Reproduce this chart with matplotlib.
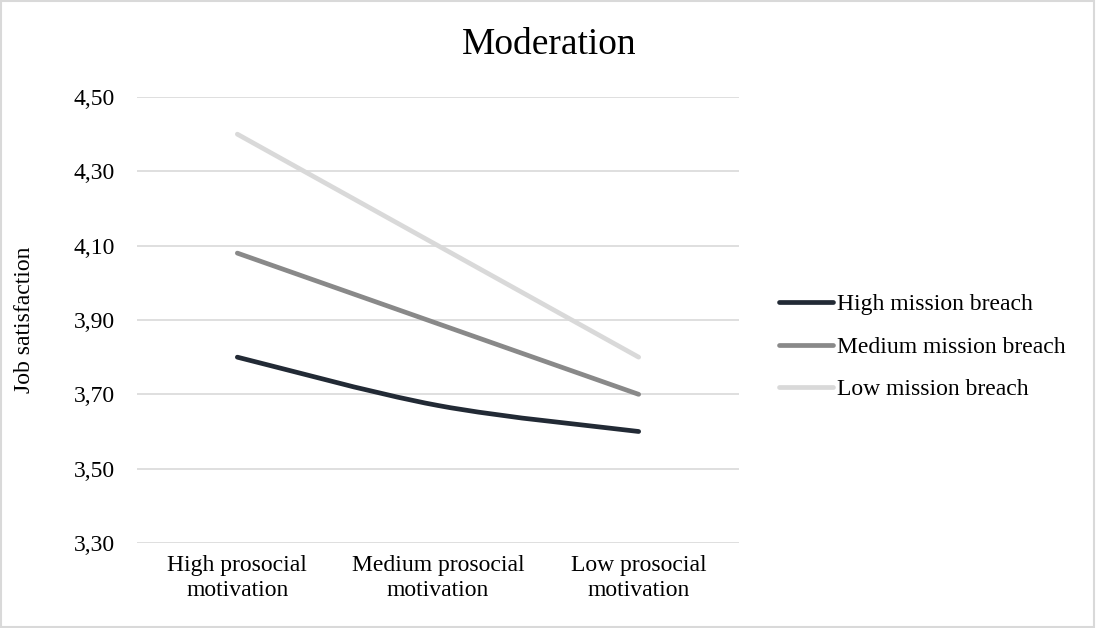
import matplotlib
matplotlib.use("Agg")
import matplotlib.pyplot as plt
from matplotlib.path import Path
from matplotlib.patches import PathPatch, Rectangle
from matplotlib.lines import Line2D
from matplotlib.ticker import FuncFormatter

categories = ["High prosocial\nmotivation", "Medium prosocial\nmotivation", "Low prosocial\nmotivation"]
series_names = ["High mission breach", "Medium mission breach", "Low mission breach"]
high_breach = [3.80, 3.67, 3.60]
medium_breach = [4.08, 3.89, 3.70]
low_breach = [4.40, 4.10, 3.80]
colors = ["#222a35", "#898989", "#d9d9d9"]
y_ticks = [3.30, 3.50, 3.70, 3.90, 4.10, 4.30, 4.50]

plt.rcParams['font.family'] = ['Liberation Serif', 'DejaVu Serif']

fig = plt.figure(figsize=(10.96, 6.28), dpi=100)
ax = fig.add_axes([137/1096, 1-543/628, (739-137)/1096, (543-97)/628])

def smooth_path(xs, ys):
    n = len(xs)
    pts = list(zip(xs, ys))
    verts = [pts[0]]
    codes = [Path.MOVETO]
    for i in range(n-1):
        p0 = pts[i-1] if i > 0 else pts[i]
        p1 = pts[i]
        p2 = pts[i+1]
        p3 = pts[i+2] if i+2 < n else pts[i+1]
        c1 = (p1[0] + (p2[0]-p0[0])/6, p1[1] + (p2[1]-p0[1])/6)
        c2 = (p2[0] - (p3[0]-p1[0])/6, p2[1] - (p3[1]-p1[1])/6)
        verts += [c1, c2, p2]
        codes += [Path.CURVE4]*3
    return Path(verts, codes)

x = list(range(len(categories)))
for vals, c in zip([high_breach, medium_breach, low_breach], colors):
    patch = PathPatch(smooth_path(x, vals), facecolor='none', edgecolor=c,
                      linewidth=3.4, capstyle='round', joinstyle='round', zorder=3)
    ax.add_patch(patch)

ax.set_xlim(-0.5, len(categories)-0.5)
ax.set_ylim(3.30, 4.50)
ax.set_yticks(y_ticks)
ax.yaxis.set_major_formatter(FuncFormatter(lambda v, p: f"{v:.2f}".replace('.', ',')))
ax.set_xticks(x)
ax.set_xticklabels(categories)
ax.tick_params(axis='y', length=0, pad=16, labelsize=17)
ax.tick_params(axis='x', length=0, pad=9, labelsize=17)
for s in ax.spines.values():
    s.set_visible(False)
ax.grid(axis='y', color='#d9d9d9', linewidth=1.2)
ax.set_axisbelow(True)
ax.set_ylabel("Job satisfaction", fontsize=17, labelpad=28)

fig.text(549/1096, 1-45/628, "Moderation", ha='center', va='center', fontsize=27)

handles = [Line2D([0], [0], color=c, linewidth=3.4, solid_capstyle='round') for c in colors]
fig.legend(handles, series_names, loc='center left', bbox_to_anchor=(779/1096, 1-347/628),
           frameon=False, fontsize=17, handlelength=2.3, handletextpad=0.15,
           labelspacing=0.88, borderpad=0, borderaxespad=0)

fig.patches.append(Rectangle((0.001, 0.001), 0.997, 0.997, transform=fig.transFigure,
                             fill=False, edgecolor='#d9d9d9', linewidth=1.5))

fig.savefig("out.png", dpi=100)
